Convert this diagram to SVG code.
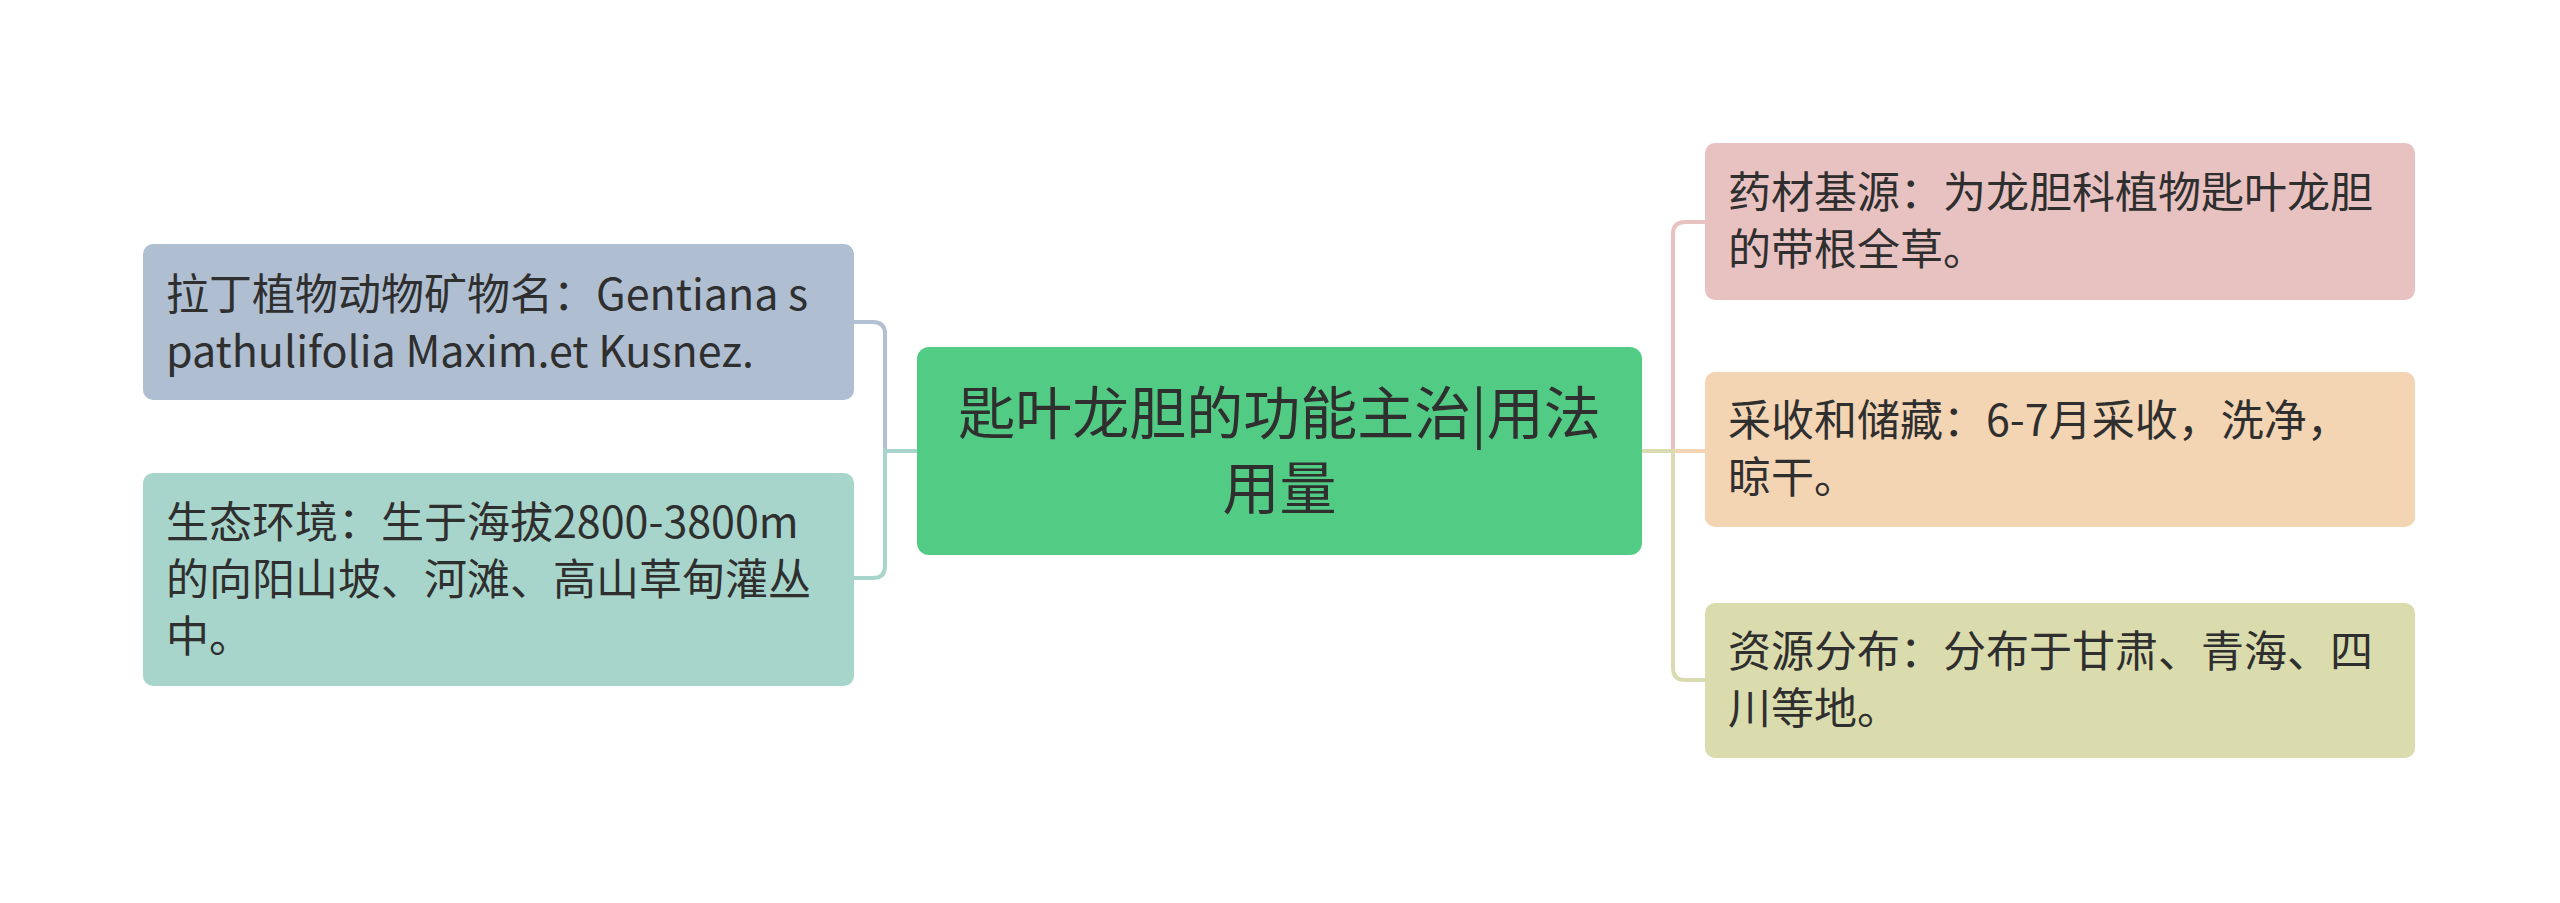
<svg xmlns="http://www.w3.org/2000/svg" width="2560" height="903" viewBox="0 0 2560 903">
<style>
text{font-family:"Noto Sans CJK SC","Noto Sans",sans-serif;fill:#2f2f2f;}
.t{font-size:43px;}
.c{font-size:57px;text-anchor:middle;}
.ln{fill:none;stroke-width:4;stroke-linecap:round;}
</style>
<rect width="2560" height="903" fill="#ffffff"/>
<g id="connectors">
<path class="ln" d="M917,451 H885" stroke="#a8d5cb"/>
<path class="ln" d="M885,451 V334 Q885,322 873,322 H854" stroke="#b2c0d3"/>
<path class="ln" d="M885,451 V566 Q885,578 873,578 H854" stroke="#a8d5cb"/>
<path class="ln" d="M1642,451 H1673" stroke="#d9dcb0"/>
<path class="ln" d="M1673,451 V234 Q1673,222 1685,222 H1705" stroke="#e8c1c1"/>
<path class="ln" d="M1673,451 H1705" stroke="#f3d4b3"/>
<path class="ln" d="M1673,451 V668 Q1673,680 1685,680 H1705" stroke="#d9dcb0"/>
</g>
<g id="center">
<rect x="917" y="347" width="725" height="208" rx="12" fill="#52cc85"/>
<text class="c" x="1279.5" y="434">匙叶龙胆的功能主治|用法</text>
<text class="c" x="1279.5" y="509">用量</text>
</g>
<g id="latin">
<rect x="143" y="244" width="711" height="156" rx="10" fill="#afbfd1"/>
<text class="t" x="166" y="310">拉丁植物动物矿物名：Gentiana s</text>
<text class="t" x="166" y="367">pathulifolia Maxim.et Kusnez.</text>
</g>
<g id="habitat">
<rect x="143" y="473" width="711" height="213" rx="10" fill="#a8d5cb"/>
<text class="t" x="166" y="538">生态环境：生于海拔2800-3800m</text>
<text class="t" x="166" y="595">的向阳山坡、河滩、高山草甸灌丛</text>
<text class="t" x="166" y="652">中。</text>
</g>
<g id="source">
<rect x="1705" y="143" width="710" height="157" rx="10" fill="#e8c1c1"/>
<text class="t" x="1728" y="208">药材基源：为龙胆科植物匙叶龙胆</text>
<text class="t" x="1728" y="265">的带根全草。</text>
</g>
<g id="harvest">
<rect x="1705" y="372" width="710" height="155" rx="10" fill="#f3d4b3"/>
<text class="t" x="1728" y="436">采收和储藏：6-7月采收，洗净，</text>
<text class="t" x="1728" y="493">晾干。</text>
</g>
<g id="distribution">
<rect x="1705" y="603" width="710" height="155" rx="10" fill="#dadcae"/>
<text class="t" x="1728" y="667">资源分布：分布于甘肃、青海、四</text>
<text class="t" x="1728" y="724">川等地。</text>
</g>
</svg>
